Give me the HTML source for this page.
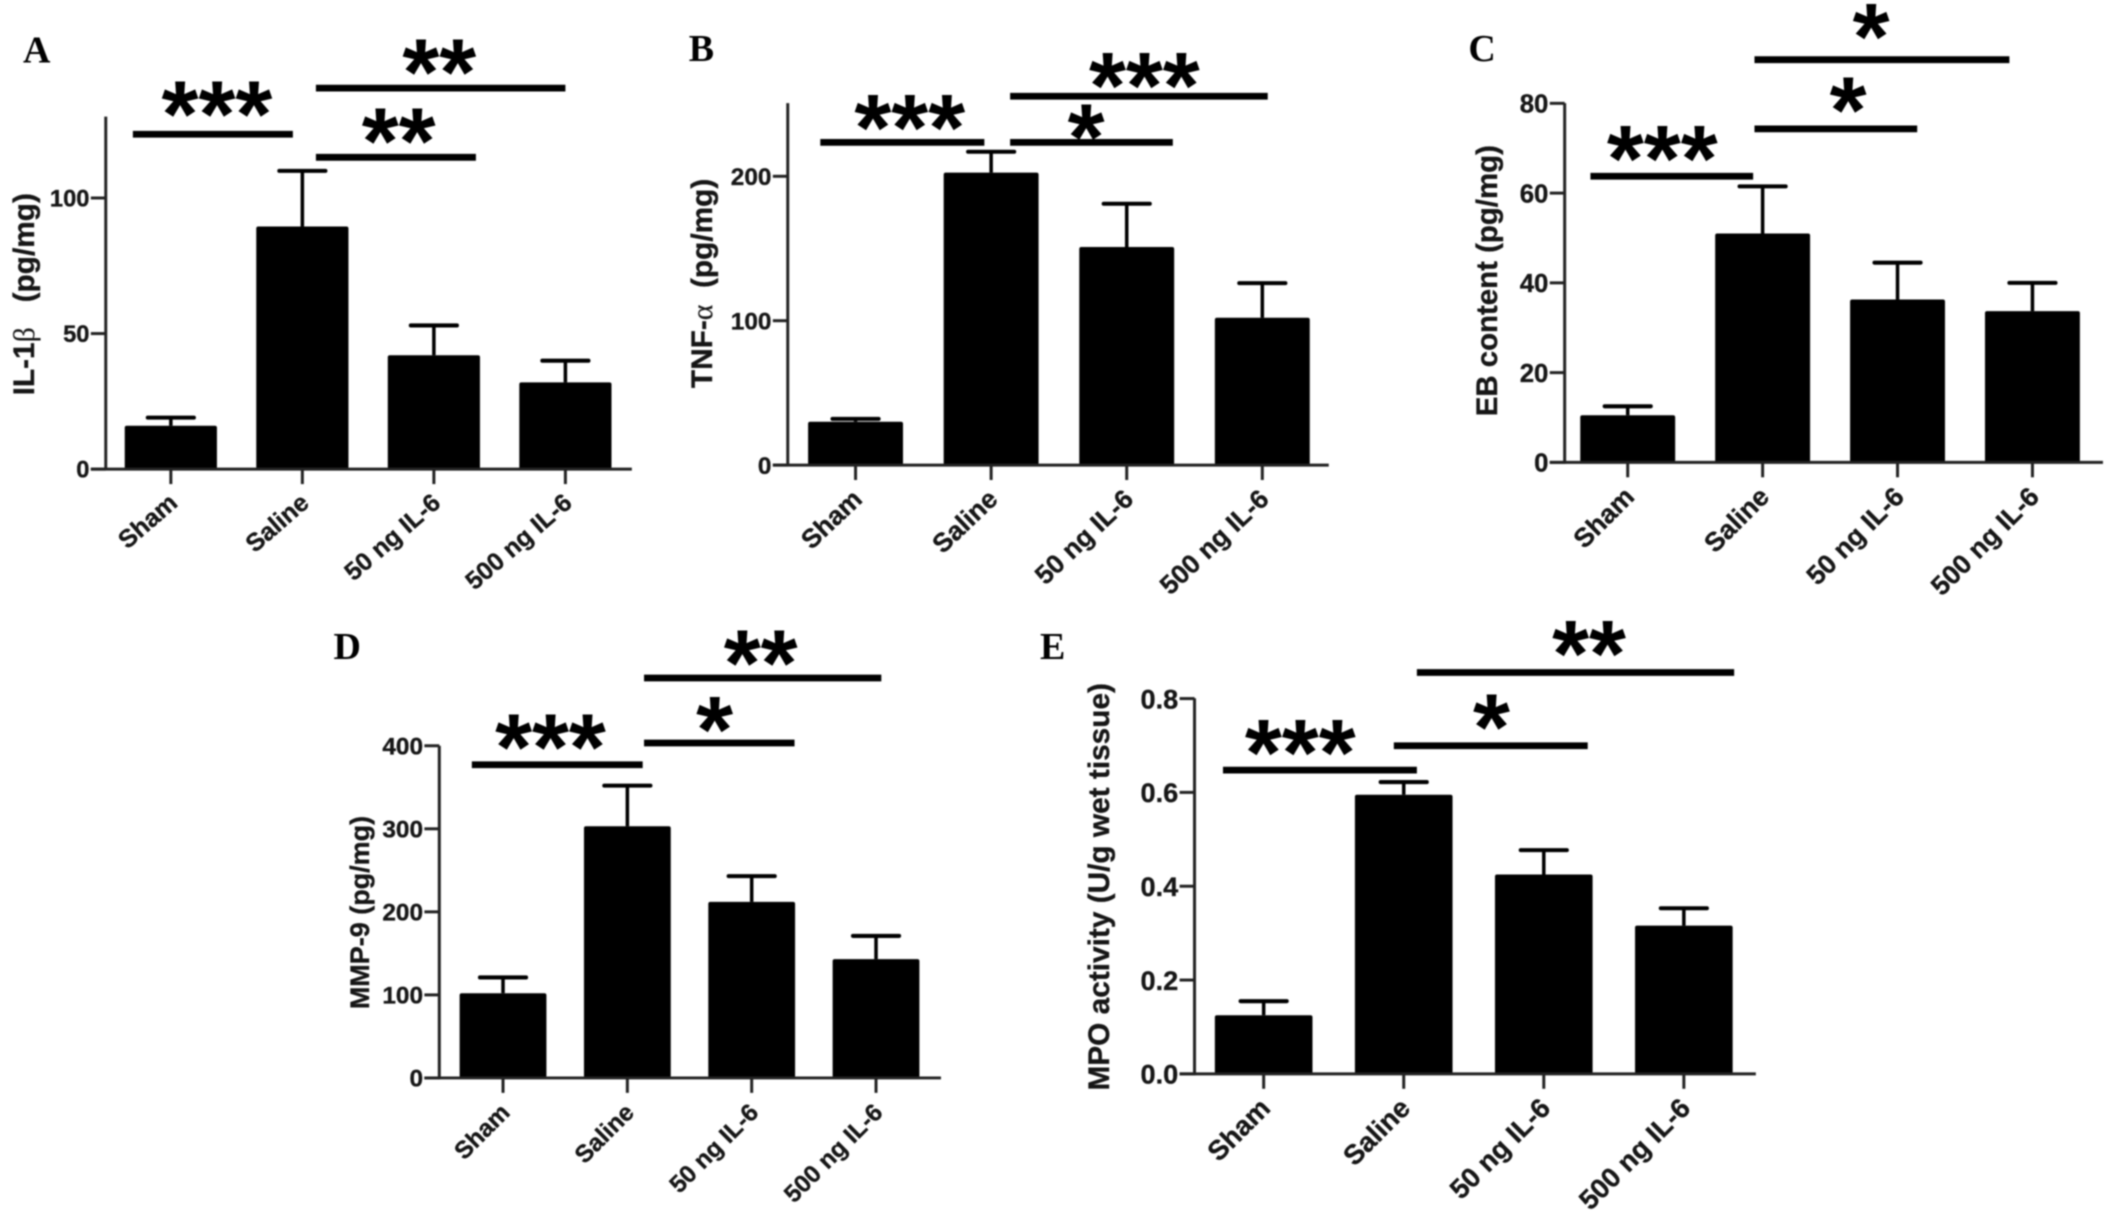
<!DOCTYPE html>
<html lang="en">
<head>
<meta charset="utf-8">
<title>IL-6 bar chart panels</title>
<style>
html,body{margin:0;padding:0;background:#fff;width:2126px;height:1232px;overflow:hidden}
svg{display:block;filter:blur(0.8px)}
text{font-family:"Liberation Sans",Arial,sans-serif;font-weight:bold;fill:#161616;stroke:#161616;stroke-width:0.25px}
.letter{font-family:"Liberation Serif","Times New Roman",serif;fill:#000;stroke:none;font-size:28px}
.star{fill:#000;stroke:none;font-size:70px}
.greek{font-family:"Liberation Serif","Times New Roman",serif;font-weight:normal;stroke-width:0.1px}
</style>
</head>
<body>
<svg id="figure" xmlns="http://www.w3.org/2000/svg" width="2126" height="1232" viewBox="0 0 1568 908.6"></svg>
<script>
// ---- data ----
const categories = ['Sham', 'Saline', '50 ng IL-6', '500 ng IL-6'];

const valuesA = [16, 89.5, 42, 32];
const errorTopsA = [19, 110, 53, 40];
const ticksA = [0, 50, 100];
const tickLabelsA = ['0', '50', '100'];

const valuesB = [30, 202.5, 151, 102];
const errorTopsB = [32, 217, 181, 126];
const ticksB = [0, 100, 200];
const tickLabelsB = ['0', '100', '200'];

const valuesC = [10.5, 51, 36.3, 33.7];
const errorTopsC = [12.5, 61.5, 44.5, 40];
const ticksC = [0, 20, 40, 60, 80];
const tickLabelsC = ['0', '20', '40', '60', '80'];

const valuesD = [102, 303, 212, 143];
const errorTopsD = [121, 352, 243, 171];
const ticksD = [0, 100, 200, 300, 400];
const tickLabelsD = ['0', '100', '200', '300', '400'];

const valuesE = [0.125, 0.595, 0.425, 0.316];
const errorTopsE = [0.155, 0.622, 0.477, 0.353];
const ticksE = [0, 0.2, 0.4, 0.6, 0.8];
const tickLabelsE = ['0.0', '0.2', '0.4', '0.6', '0.8'];

// ---- layout (separate from the data) ----
const panels = [
  {id:'a', letter:'A', lx:17, ly:46, values:valuesA, tops:errorTopsA, ticks:ticksA, labels:tickLabelsA,
   axisX:78, top:86, y0:346, unit:2.0, first:126, step:97, barW:68, end:466,
   tickFont:17.5, xFont:18.5, xAngle:-41, titleFont:22,
   title:['IL-1', '\u03B2', '   (pg/mg)'], titleX:25, titleY:217,
   sig:[['***',98,216,99,160,75],['**',233,351,116,294,95],['**',233,417,65,324,44]]},
  {id:'b', letter:'B', lx:508, ly:45, values:valuesB, tops:errorTopsB, ticks:ticksB, labels:tickLabelsB,
   axisX:581, top:76, y0:343, unit:1.065, first:631, step:100, barW:70, end:980,
   tickFont:18, xFont:19.5, xAngle:-43.5, titleFont:22,
   title:['TNF-', '\u03B1', '  (pg/mg)'], titleX:525, titleY:209,
   sig:[['***',605,726,105,671,85],['*',745,865,105,801,92],['***',745,935,71,844,54]]},
  {id:'c', letter:'C', lx:1083, ly:45, values:valuesC, tops:errorTopsC, ticks:ticksC, labels:tickLabelsC,
   axisX:1154, top:76, y0:341, unit:3.31, first:1200.5, step:99.5, barW:70, end:1551,
   tickFont:19, xFont:19.7, xAngle:-45, titleFont:21.7,
   title:['EB content (pg/mg)'], titleX:1104, titleY:207,
   sig:[['***',1173,1293,130,1226,108],['*',1294,1414,95,1363,72],['*',1294,1482,44,1380,18]]},
  {id:'d', letter:'D', lx:246, ly:486, values:valuesD, tops:errorTopsD, ticks:ticksD, labels:tickLabelsD,
   axisX:324, top:550, y0:795, unit:0.6125, first:371, step:91.7, barW:64, end:694,
   tickFont:18, xFont:18, xAngle:-45, titleFont:19.9,
   title:['MMP-9 (pg/mg)'], titleX:272, titleY:673,
   sig:[['***',348,474,564,406,542],['*',475,586,548,527,529],['**',475,650,500,561,480]]},
  {id:'e', letter:'E', lx:767, ly:486, values:valuesE, tops:errorTopsE, ticks:ticksE, labels:tickLabelsE,
   axisX:881, top:515, y0:792, unit:346, first:932, step:103.3, barW:72, end:1295,
   tickFont:20, xFont:20.3, xAngle:-45, titleFont:22,
   title:['MPO activity (U/g wet tissue)'], titleX:818, titleY:654,
   sig:[['***',902,1045,568,959,546],['*',1028,1171,550,1100,527],['**',1045,1279,496,1172,473]]}
];

const NS = 'http://www.w3.org/2000/svg';
const root = document.getElementById('figure');

function mk(tag, attrs, parent) {
  const el = document.createElementNS(NS, tag);
  for (const k in attrs) el.setAttribute(k, attrs[k]);
  parent.appendChild(el);
  return el;
}

function drawPanel(p) {
  const yScale = v => p.y0 - v * p.unit;
  const xBand = i => p.first + i * p.step;

  const g = mk('g', {}, root);
  
  

  const letter = mk('text', {x:p.lx, y:p.ly, class:'letter'}, g);
  letter.textContent = p.letter;
  
  

  p.values.forEach((v, i) => {
    const cx = xBand(i);
    const bar = mk('rect', {x:cx - p.barW / 2, y:yScale(v), width:p.barW, height:p.y0 - yScale(v), fill:'#000', rx:1.5}, g);
    
    

    const stem = mk('line', {x1:cx, x2:cx, y1:yScale(v), y2:yScale(p.tops[i]), stroke:'#000', 'stroke-width':2.6}, g);
    
    

    const cap = mk('line', {x1:cx - 17, x2:cx + 17, y1:yScale(p.tops[i]), y2:yScale(p.tops[i]), stroke:'#000', 'stroke-width':3, 'stroke-linecap':'round'}, g);
    
    

    const tick = mk('line', {x1:cx, x2:cx, y1:p.y0, y2:p.y0 + 11, stroke:'#222', 'stroke-width':2.2}, g);
    
    

    const lx = cx + 6, ly = p.y0 + 26.5;
    const label = mk('text', {x:lx, y:ly, 'text-anchor':'end', 'font-size':p.xFont, transform:'rotate(' + p.xAngle + ' ' + lx + ' ' + ly + ')'}, g);
    label.textContent = categories[i];
    
    
  });

  const yAxis = mk('line', {x1:p.axisX, x2:p.axisX, y1:p.top, y2:p.y0 + 1, stroke:'#222', 'stroke-width':2.2}, g);
  
  

  const xAxis = mk('line', {x1:p.axisX - 11, x2:p.end, y1:p.y0, y2:p.y0, stroke:'#222', 'stroke-width':2.2}, g);
  
  

  p.ticks.forEach((t, i) => {
    const ty = yScale(t);
    const tick = mk('line', {x1:p.axisX - 11, x2:p.axisX, y1:ty, y2:ty, stroke:'#222', 'stroke-width':2.2}, g);
    
    

    const label = mk('text', {x:p.axisX - 12, y:ty + p.tickFont * 0.36, 'text-anchor':'end', 'font-size':p.tickFont}, g);
    label.textContent = p.labels[i];
    
    
  });

  const title = mk('text', {x:p.titleX, y:p.titleY, 'text-anchor':'middle', 'font-size':p.titleFont, style:'white-space:pre', transform:'rotate(-90 ' + p.titleX + ' ' + p.titleY + ')'}, g);
  
  
  p.title.forEach((part, i) => {
    const span = mk('tspan', i === 1 ? {class:'greek'} : {}, title);
    span.textContent = part;
  });

  p.sig.forEach((s, i) => {
    const line = mk('line', {x1:s[1], x2:s[2], y1:s[3], y2:s[3], stroke:'#000', 'stroke-width':5}, g);
    
    

    const star = mk('text', {x:s[4], y:s[5] + 33, 'text-anchor':'middle', class:'star'}, g);
    star.textContent = s[0];
    
    
  });
}

panels.forEach(drawPanel);
</script>
</body>
</html>
